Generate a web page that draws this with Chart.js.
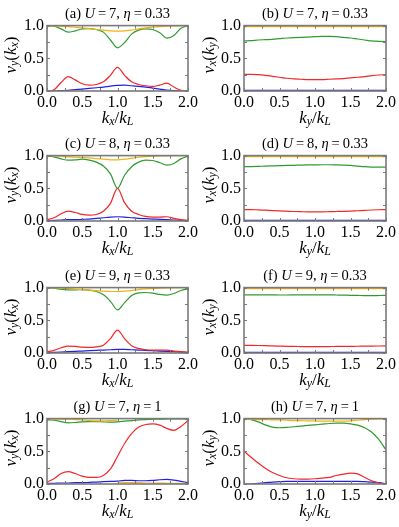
<!DOCTYPE html>
<html>
<head>
<meta charset="utf-8">
<script src="https://cdn.jsdelivr.net/npm/chart.js@4.4.1/dist/chart.umd.min.js"></script>
<style>
  html, body { margin: 0; padding: 0; background: #fff; }
  #page { position: relative; width: 399px; height: 527px; overflow: hidden; font-family: "Liberation Serif", "DejaVu Serif", serif; color: #000; }
  .panel { position: absolute; }
  .txt { position: absolute; white-space: nowrap; line-height: 1; }
  .title { font-size: 14.5px; transform: translate(-50%, -50%); }
  .xlab { font-size: 17px; transform: translate(-50%, -50%); }
  .ylab { font-size: 17px; transform: translate(-50%, -50%) rotate(-90deg); }
  sub { font-size: 70%; vertical-align: -0.25em; line-height: 0; }
</style>
</head>
<body>
<div id="page"></div>
<script>
// shared momentum grid k/k_L
const K = [0, 0.1, 0.2, 0.3, 0.4, 0.5, 0.6, 0.7, 0.8, 0.9, 1.0, 1.1, 1.2, 1.3, 1.4, 1.5, 1.6, 1.7, 1.8, 1.9, 2.0];

const X_TICKS = ["0.0", "0.5", "1.0", "1.5", "2.0"];
const Y_TICKS = ["0.0", "0.5", "1.0"];

// (a) U=7, eta=0.33, nu_y(k_x)
const aGold  = [1.0, 0.995, 0.99, 0.985, 0.975, 0.965, 0.955, 0.94, 0.93, 0.92, 0.915, 0.92, 0.93, 0.95, 0.965, 0.975, 0.985, 0.99, 0.995, 1.0, 1.0];
const aGreen = [1.0, 0.99, 0.95, 0.90, 0.92, 0.95, 0.955, 0.94, 0.90, 0.78, 0.66, 0.74, 0.87, 0.93, 0.95, 0.94, 0.89, 0.81, 0.85, 0.96, 1.0];
const aRed   = [0.0, 0.02, 0.13, 0.22, 0.17, 0.11, 0.09, 0.10, 0.14, 0.24, 0.36, 0.24, 0.14, 0.10, 0.08, 0.07, 0.09, 0.12, 0.06, 0.01, 0.0];
const aBlue  = [0.0, 0.0, 0.005, 0.01, 0.02, 0.03, 0.04, 0.05, 0.06, 0.075, 0.085, 0.09, 0.08, 0.07, 0.06, 0.045, 0.03, 0.015, 0.005, 0.0, 0.0];

// (b) U=7, eta=0.33, nu_x(k_y)
const bGold  = [0.985, 0.985, 0.985, 0.985, 0.985, 0.985, 0.985, 0.985, 0.985, 0.985, 0.985, 0.985, 0.985, 0.985, 0.985, 0.985, 0.985, 0.985, 0.985, 0.985, 0.985];
const bGreen = [0.765, 0.77, 0.78, 0.785, 0.79, 0.80, 0.81, 0.815, 0.82, 0.825, 0.83, 0.835, 0.835, 0.83, 0.82, 0.81, 0.795, 0.78, 0.765, 0.76, 0.755];
const bRed   = [0.255, 0.255, 0.25, 0.24, 0.225, 0.21, 0.195, 0.185, 0.18, 0.175, 0.175, 0.175, 0.18, 0.185, 0.19, 0.20, 0.21, 0.22, 0.235, 0.245, 0.25];
const bBlue  = [0.01, 0.01, 0.01, 0.01, 0.01, 0.01, 0.01, 0.01, 0.01, 0.01, 0.01, 0.01, 0.01, 0.01, 0.01, 0.01, 0.01, 0.01, 0.01, 0.01, 0.01];

// (c) U=8, eta=0.33
const cGold  = [1.0, 0.995, 0.99, 0.98, 0.975, 0.97, 0.965, 0.955, 0.945, 0.935, 0.935, 0.945, 0.96, 0.975, 0.985, 0.99, 0.995, 0.995, 1.0, 1.0, 1.0];
const cGreen = [0.995, 0.98, 0.95, 0.93, 0.935, 0.945, 0.93, 0.90, 0.84, 0.72, 0.50, 0.70, 0.83, 0.90, 0.93, 0.925, 0.89, 0.855, 0.88, 0.95, 0.99];
const cRed   = [0.02, 0.05, 0.11, 0.15, 0.13, 0.10, 0.09, 0.10, 0.15, 0.27, 0.50, 0.28, 0.15, 0.10, 0.07, 0.06, 0.06, 0.065, 0.04, 0.02, 0.01];
const cBlue  = [0.005, 0.01, 0.015, 0.02, 0.02, 0.025, 0.03, 0.04, 0.05, 0.06, 0.065, 0.06, 0.05, 0.04, 0.035, 0.03, 0.025, 0.02, 0.015, 0.01, 0.005];

// (d) U=8, eta=0.33
const dGold  = [0.985, 0.985, 0.985, 0.985, 0.985, 0.985, 0.985, 0.985, 0.985, 0.985, 0.985, 0.985, 0.985, 0.985, 0.985, 0.985, 0.985, 0.985, 0.985, 0.985, 0.985];
const dGreen = [0.83, 0.832, 0.835, 0.84, 0.843, 0.846, 0.85, 0.852, 0.855, 0.857, 0.858, 0.86, 0.86, 0.858, 0.855, 0.85, 0.84, 0.83, 0.825, 0.823, 0.825];
const dRed   = [0.175, 0.175, 0.17, 0.165, 0.16, 0.155, 0.15, 0.145, 0.142, 0.14, 0.14, 0.14, 0.142, 0.145, 0.148, 0.152, 0.157, 0.162, 0.168, 0.172, 0.175];
const dBlue  = [0.01, 0.01, 0.01, 0.01, 0.01, 0.01, 0.01, 0.01, 0.01, 0.01, 0.01, 0.01, 0.01, 0.01, 0.01, 0.01, 0.01, 0.01, 0.01, 0.01, 0.01];

// (e) U=9, eta=0.33
const eGold  = [1.0, 0.995, 0.99, 0.985, 0.975, 0.97, 0.96, 0.955, 0.945, 0.94, 0.94, 0.945, 0.955, 0.97, 0.98, 0.985, 0.99, 0.995, 1.0, 1.0, 1.0];
const eGreen = [0.995, 0.99, 0.975, 0.965, 0.965, 0.97, 0.96, 0.94, 0.89, 0.79, 0.66, 0.77, 0.88, 0.92, 0.925, 0.915, 0.895, 0.885, 0.91, 0.955, 0.98];
const eRed   = [0.02, 0.04, 0.08, 0.105, 0.10, 0.09, 0.085, 0.095, 0.12, 0.22, 0.35, 0.22, 0.11, 0.07, 0.05, 0.045, 0.045, 0.045, 0.03, 0.02, 0.015];
const eBlue  = [0.005, 0.01, 0.015, 0.02, 0.025, 0.03, 0.035, 0.04, 0.045, 0.05, 0.055, 0.055, 0.05, 0.045, 0.04, 0.035, 0.03, 0.025, 0.02, 0.01, 0.005];

// (f) U=9, eta=0.33
const fGold  = [0.985, 0.985, 0.985, 0.985, 0.985, 0.985, 0.985, 0.985, 0.985, 0.985, 0.985, 0.985, 0.985, 0.985, 0.985, 0.985, 0.985, 0.985, 0.985, 0.985, 0.985];
const fGreen = [0.89, 0.89, 0.889, 0.888, 0.888, 0.887, 0.887, 0.888, 0.889, 0.89, 0.89, 0.89, 0.889, 0.887, 0.885, 0.882, 0.88, 0.878, 0.877, 0.879, 0.882];
const fRed   = [0.118, 0.117, 0.115, 0.112, 0.108, 0.105, 0.102, 0.10, 0.099, 0.098, 0.098, 0.098, 0.099, 0.10, 0.101, 0.102, 0.103, 0.105, 0.106, 0.107, 0.108];
const fBlue  = [0.01, 0.01, 0.01, 0.01, 0.01, 0.01, 0.01, 0.01, 0.01, 0.01, 0.01, 0.01, 0.01, 0.01, 0.01, 0.01, 0.01, 0.01, 0.01, 0.01, 0.01];

// (g) U=7, eta=1 -- gold band jumps from top to bottom at k=1
const gGoldUpper = [0.99, 0.99, 0.99, 0.99, 0.985, 0.98, 0.97, 0.965, 0.965, 0.97, 0.975, null, null, null, null, null, null, null, null, null, null];
const gGoldLower = [null, null, null, null, null, null, null, null, null, null, 0.03, 0.025, 0.02, 0.02, 0.015, 0.015, 0.015, 0.01, 0.01, 0.01, 0.01];
const gGreen = [0.98, 0.975, 0.955, 0.935, 0.94, 0.95, 0.955, 0.955, 0.95, 0.945, 0.95, 0.96, 0.97, 0.98, 0.985, 0.99, 0.99, 0.995, 0.995, 0.995, 0.995];
const gRed   = [0.03, 0.08, 0.16, 0.19, 0.16, 0.12, 0.10, 0.10, 0.13, 0.23, 0.42, 0.62, 0.77, 0.87, 0.91, 0.92, 0.90, 0.85, 0.82, 0.88, 0.97];
const gBlue  = [0.01, 0.01, 0.015, 0.015, 0.02, 0.02, 0.025, 0.03, 0.035, 0.04, 0.045, 0.055, 0.055, 0.05, 0.05, 0.055, 0.065, 0.07, 0.06, 0.04, 0.02];

// (h) U=7, eta=1
const hGold  = [0.99, 0.99, 0.985, 0.985, 0.98, 0.98, 0.975, 0.97, 0.97, 0.965, 0.965, 0.96, 0.96, 0.96, 0.96, 0.965, 0.975, 0.985, 0.99, 0.995, 0.995];
const hGreen = [1.0, 0.985, 0.95, 0.905, 0.87, 0.86, 0.865, 0.875, 0.885, 0.895, 0.905, 0.915, 0.925, 0.93, 0.93, 0.92, 0.90, 0.86, 0.79, 0.68, 0.52];
const hRed   = [0.50, 0.41, 0.32, 0.24, 0.175, 0.13, 0.095, 0.08, 0.075, 0.075, 0.08, 0.09, 0.10, 0.13, 0.15, 0.165, 0.155, 0.10, 0.05, 0.015, 0.0];
const hBlue  = [0.0, 0.0, 0.01, 0.02, 0.03, 0.035, 0.04, 0.04, 0.04, 0.04, 0.04, 0.04, 0.04, 0.04, 0.04, 0.04, 0.04, 0.035, 0.03, 0.02, 0.005];

const GOLD = "#f2b410";
const GREEN = "#2f9a2f";
const RED = "#f02828";
const BLUE = "#2020e8";
const FRAME = "#7a7a7a";
const TICK_FONT = { family: "'Liberation Serif', 'Times New Roman', serif", size: 16 };

const PLOT_LEFT = [47, 244];
const PLOT_WIDTH = [141, 142];
const PLOT_TOP = [19, 149, 281, 412];
const PLOT_HEIGHT = 72;

const PANELS = [
  { tag: "a", U: 7, eta: "0.33", dir: "y", series: [aGold, aGreen, aRed, aBlue] },
  { tag: "b", U: 7, eta: "0.33", dir: "x", series: [bGold, bGreen, bRed, bBlue] },
  { tag: "c", U: 8, eta: "0.33", dir: "y", series: [cGold, cGreen, cRed, cBlue] },
  { tag: "d", U: 8, eta: "0.33", dir: "x", series: [dGold, dGreen, dRed, dBlue] },
  { tag: "e", U: 9, eta: "0.33", dir: "y", series: [eGold, eGreen, eRed, eBlue] },
  { tag: "f", U: 9, eta: "0.33", dir: "x", series: [fGold, fGreen, fRed, fBlue] },
  { tag: "g", U: 7, eta: "1", dir: "y", series: [gGoldUpper, gGreen, gRed, gBlue, gGoldLower] },
  { tag: "h", U: 7, eta: "1", dir: "x", series: [hGold, hGreen, hRed, hBlue] }
];
const SERIES_COLORS = [GOLD, GREEN, RED, BLUE, GOLD];

// frame on all four sides with inward ticks, like the original plot
const framePlugin = {
  id: "frame",
  afterDatasetsDraw(chart) {
    const { ctx, chartArea: a, scales } = chart;
    ctx.save();
    ctx.strokeStyle = FRAME;
    ctx.lineWidth = 1;
    scales.x.ticks.forEach(t => {
      const px = Math.round(scales.x.getPixelForValue(t.value)) + 0.5;
      ctx.beginPath();
      ctx.moveTo(px, a.bottom); ctx.lineTo(px, a.bottom - 3);
      ctx.moveTo(px, a.top); ctx.lineTo(px, a.top + 3);
      ctx.stroke();
    });
    scales.y.ticks.forEach(t => {
      const py = Math.round(scales.y.getPixelForValue(t.value)) + 0.5;
      ctx.beginPath();
      ctx.moveTo(a.left, py); ctx.lineTo(a.left + 3, py);
      ctx.moveTo(a.right, py); ctx.lineTo(a.right - 3, py);
      ctx.stroke();
    });
    ctx.lineWidth = 1.6;
    ctx.strokeRect(a.left, a.top, a.right - a.left, a.bottom - a.top);
    ctx.restore();
  }
};

function tickLabel(labels) {
  return value => {
    const text = Number(value).toFixed(1);
    return labels.includes(text) && Math.abs(value * 2 - Math.round(value * 2)) < 1e-6 ? text : "";
  };
}

function addText(page, cls, html, x, y) {
  const el = document.createElement("div");
  el.className = "txt " + cls;
  el.innerHTML = html;
  el.style.left = x + "px";
  el.style.top = y + "px";
  page.appendChild(el);
}

function buildPanel(page, panel, index) {
  const col = index % 2;
  const row = Math.floor(index / 2);
  const left = PLOT_LEFT[col];
  const width = PLOT_WIDTH[col];
  const top = PLOT_TOP[row];
  const padL = 32, padT = 6, padR = 12, padB = 20;

  const box = document.createElement("div");
  box.className = "panel";
  box.style.left = (left - padL) + "px";
  box.style.top = (top - padT) + "px";
  box.style.width = (width + padL + padR) + "px";
  box.style.height = (PLOT_HEIGHT + padT + padB) + "px";
  const canvas = document.createElement("canvas");
  box.appendChild(canvas);
  page.appendChild(box);

  const other = panel.dir === "y" ? "x" : "y";
  const cx = left + width / 2;
  addText(page, "title", `(${panel.tag}) <i>U</i>\u2009=\u2009${panel.U}, <i>η</i>\u2009=\u2009${panel.eta}`, cx, top - 6);
  addText(page, "xlab", `<i>k<sub>${other}</sub></i>/<i>k<sub>L</sub></i>`, cx, top + PLOT_HEIGHT + 26);
  addText(page, "ylab", `<i>ν<sub>${panel.dir}</sub></i>(<i>k<sub>${other}</sub></i>)`, col === 0 ? 10 : 208, top + PLOT_HEIGHT / 2);

  new Chart(canvas, {
    type: "line",
    data: {
      datasets: panel.series.map((values, i) => ({
        data: K.map((k, j) => ({ x: k, y: values[j] })),
        borderColor: SERIES_COLORS[i],
        borderWidth: 1.2,
        pointRadius: 0,
        cubicInterpolationMode: "monotone",
        spanGaps: false,
        fill: false
      }))
    },
    options: {
      responsive: true,
      maintainAspectRatio: false,
      animation: false,
      events: [],
      layout: { padding: { left: 0, top: padT, right: padR, bottom: 0 } },
      plugins: { legend: { display: false }, tooltip: { enabled: false } },
      scales: {
        x: {
          type: "linear",
          min: 0,
          max: 2,
          afterFit: scale => { scale.height = padB; },
          grid: { display: false, drawTicks: false },
          border: { display: false },
          ticks: {
            stepSize: 0.25,
            autoSkip: false,
            maxRotation: 0,
            padding: 2,
            color: "#000",
            font: TICK_FONT,
            callback: tickLabel(X_TICKS)
          }
        },
        y: {
          min: 0,
          max: 1,
          afterFit: scale => { scale.width = padL; },
          grid: { display: false, drawTicks: false },
          border: { display: false },
          ticks: {
            stepSize: 0.25,
            autoSkip: false,
            padding: 3,
            color: "#000",
            font: TICK_FONT,
            callback: tickLabel(Y_TICKS)
          }
        }
      }
    },
    plugins: [framePlugin]
  });
}

const page = document.getElementById("page");
PANELS.forEach((panel, i) => buildPanel(page, panel, i));
</script>
</body>
</html>
